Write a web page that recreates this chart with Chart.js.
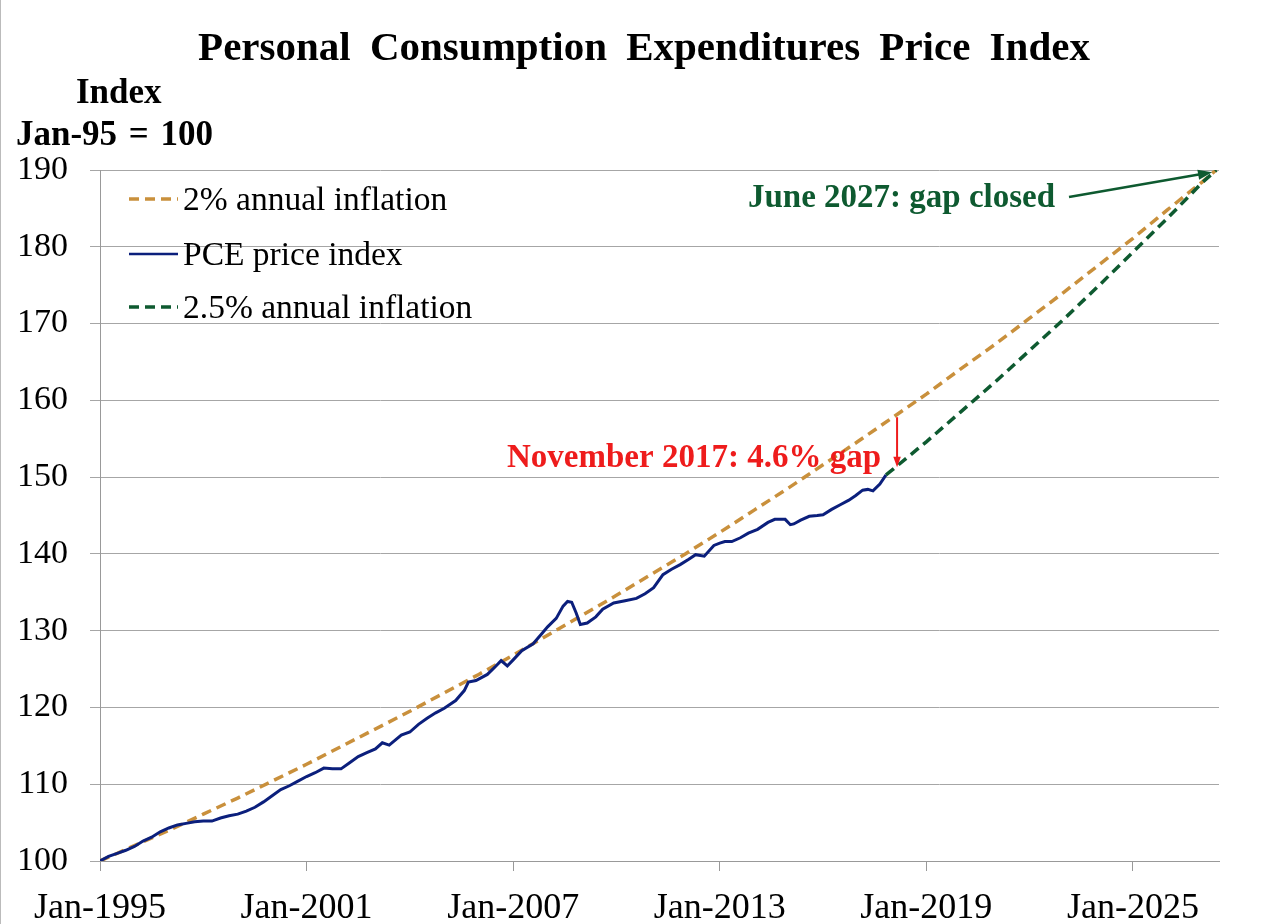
<!DOCTYPE html>
<html>
<head>
<meta charset="utf-8">
<script src="https://cdn.jsdelivr.net/npm/chart.js@4"></script>
<style>
  html, body { margin: 0; padding: 0; background: #fff; }
  #wrap { width: 1264px; height: 924px; position: relative; border-left: 1px solid #bbb; box-sizing: border-box; }
  canvas { display: block; }
</style>
</head>
<body>
<div id="wrap"><canvas id="chart" width="1263" height="924"></canvas></div>
<script>
// PCE price index, Jan-1995 = 100
const pceDates = [1995.00, 1995.25, 1995.50, 1995.75, 1996.00, 1996.25, 1996.50, 1996.75,
  1997.00, 1997.25, 1997.50, 1997.75, 1998.00, 1998.25, 1998.50, 1998.75,
  1999.00, 1999.25, 1999.50, 1999.75, 2000.00, 2000.25, 2000.50, 2000.75,
  2001.00, 2001.25, 2001.50, 2001.75, 2002.00, 2002.25, 2002.50, 2002.75,
  2003.00, 2003.20, 2003.40, 2003.75, 2004.00, 2004.25, 2004.50, 2004.75,
  2005.00, 2005.33, 2005.58, 2005.70, 2005.92, 2006.25, 2006.50, 2006.65, 2006.83,
  2007.00, 2007.25, 2007.58, 2007.83, 2008.00, 2008.25, 2008.45, 2008.58, 2008.70,
  2008.83, 2008.95, 2009.15, 2009.40, 2009.60, 2009.92, 2010.25, 2010.58, 2010.83,
  2011.08, 2011.35, 2011.60, 2011.85, 2012.10, 2012.30, 2012.55, 2012.83,
  2013.00, 2013.15, 2013.35, 2013.60, 2013.83, 2014.10, 2014.40, 2014.60, 2014.90,
  2015.05, 2015.15, 2015.35, 2015.60, 2015.83, 2016.00, 2016.25, 2016.50, 2016.75,
  2016.95, 2017.15, 2017.30, 2017.45, 2017.65, 2017.83];
const pceValues = [100.0, 100.6, 101.0, 101.4, 101.9, 102.6, 103.1, 103.8,
  104.3, 104.7, 104.9, 105.1, 105.2, 105.2, 105.6, 105.9,
  106.1, 106.5, 107.0, 107.7, 108.5, 109.3, 109.8, 110.4,
  111.0, 111.5, 112.1, 112.0, 112.0, 112.8, 113.6, 114.1,
  114.6, 115.4, 115.1, 116.4, 116.8, 117.8, 118.6, 119.3,
  119.9, 120.9, 122.2, 123.3, 123.5, 124.3, 125.4, 126.1, 125.4,
  126.2, 127.4, 128.3, 129.6, 130.5, 131.6, 133.2, 133.8, 133.7,
  132.3, 130.8, 131.0, 131.8, 132.8, 133.6, 133.9, 134.2, 134.8,
  135.6, 137.3, 138.0, 138.6, 139.3, 139.9, 139.7, 141.1,
  141.4, 141.6, 141.6, 142.1, 142.7, 143.2, 144.1, 144.5, 144.5,
  143.8, 143.9, 144.4, 144.9, 145.0, 145.1, 145.8, 146.4, 147.0,
  147.6, 148.3, 148.4, 148.2, 149.1, 150.3];

// 2% annual inflation path from Jan-1995
const trend2Dates = [1995, 1996, 1997, 1998, 1999, 2000, 2001, 2002, 2003, 2004, 2005,
  2006, 2007, 2008, 2009, 2010, 2011, 2012, 2013, 2014, 2015, 2016, 2017, 2018,
  2019, 2020, 2021, 2022, 2023, 2024, 2025, 2026, 2027, 2027.42];
const trend2Values = [100.0, 102.0, 104.0, 106.1, 108.2, 110.4, 112.6, 114.9, 117.2, 119.5, 121.9,
  124.3, 126.8, 129.4, 132.0, 134.6, 137.3, 140.0, 142.8, 145.7, 148.6, 151.6, 154.6, 157.7,
  160.8, 164.1, 167.3, 170.7, 174.1, 177.6, 181.1, 184.8, 188.4, 190.0];

// 2.5% annual inflation path from Nov-2017
const trend25Dates = [2017.83, 2018, 2019, 2020, 2021, 2022, 2023, 2024, 2025, 2026, 2027, 2027.42];
const trend25Values = [150.3, 150.9, 154.6, 158.5, 162.4, 166.5, 170.6, 174.9, 179.3, 183.7, 188.3, 190.0];

const xTickYears = [1995, 2001, 2007, 2013, 2019, 2025];
const yTickValues = [100, 110, 120, 130, 140, 150, 160, 170, 180, 190];

const chartTitle = 'Personal Consumption Expenditures Price Index';
const axisTitle = ['Index', 'Jan-95 = 100'];
const gapLabel = 'November 2017: 4.6% gap';
const closeLabel = 'June 2027: gap closed';

const orange = '#C9903C';
const navy = '#0B1F7C';
const green = '#0E5A30';
const red = '#EE1C1C';
const serif = '"Liberation Serif", "Times New Roman", serif';

function pts(xs, ys) {
  return xs.map((x, i) => ({ x: x, y: ys[i] }));
}

function arrow(ctx, x1, y1, x2, y2, color, width, head) {
  const ang = Math.atan2(y2 - y1, x2 - x1);
  ctx.strokeStyle = color;
  ctx.fillStyle = color;
  ctx.lineWidth = width;
  ctx.setLineDash([]);
  ctx.beginPath();
  ctx.moveTo(x1, y1);
  ctx.lineTo(x2 - Math.cos(ang) * head * 0.8, y2 - Math.sin(ang) * head * 0.8);
  ctx.stroke();
  ctx.beginPath();
  ctx.moveTo(x2, y2);
  ctx.lineTo(x2 - head * Math.cos(ang - 0.35), y2 - head * Math.sin(ang - 0.35));
  ctx.lineTo(x2 - head * Math.cos(ang + 0.35), y2 - head * Math.sin(ang + 0.35));
  ctx.closePath();
  ctx.fill();
}

const overlay = {
  id: 'overlay',
  afterDraw(chart) {
    const ctx = chart.ctx;
    const x = chart.scales.x, y = chart.scales.y;
    ctx.save();

    // title
    ctx.fillStyle = '#000';
    ctx.font = 'bold 41px ' + serif;
    ctx.wordSpacing = '9px';
    ctx.textAlign = 'center';
    ctx.textBaseline = 'alphabetic';
    ctx.fillText(chartTitle, 643, 60);

    // axis title
    ctx.font = 'bold 35px ' + serif;
    ctx.wordSpacing = '3px';
    ctx.textAlign = 'left';
    ctx.fillText(axisTitle[0], 75, 103);
    ctx.fillText(axisTitle[1], 15, 145);
    ctx.wordSpacing = '0px';

    // legend inside plot
    const rows = [199, 254, 307];
    ctx.font = '33.5px ' + serif;
    ctx.textBaseline = 'middle';
    chart.data.datasets.forEach((ds, i) => {
      const yy = rows[i];
      ctx.strokeStyle = ds.borderColor;
      ctx.lineWidth = ds.borderDash ? 3.5 : 2.5;
      ctx.setLineDash(ds.borderDash || []);
      ctx.beginPath();
      ctx.moveTo(128, yy);
      ctx.lineTo(177, yy);
      ctx.stroke();
      ctx.setLineDash([]);
      ctx.fillStyle = '#000';
      ctx.fillText(ds.label, 182, yy + 2);
    });

    // gap annotation
    ctx.font = 'bold 33px ' + serif;
    ctx.textAlign = 'right';
    ctx.textBaseline = 'alphabetic';
    ctx.fillStyle = red;
    ctx.fillText(gapLabel, 880, 467);
    const ax = x.getPixelForValue(2018.15);
    arrow(ctx, ax, y.getPixelForValue(157.8), ax, y.getPixelForValue(151.3), red, 2, 11);

    // closed annotation
    ctx.fillStyle = green;
    ctx.textAlign = 'left';
    ctx.fillText(closeLabel, 747, 207);
    arrow(ctx, 1068, 197, x.getPixelForValue(2027.3), y.getPixelForValue(189.7), green, 2.5, 15);

    ctx.restore();
  }
};

const ctx = document.getElementById('chart').getContext('2d');
new Chart(ctx, {
  type: 'line',
  data: {
    datasets: [
      {
        label: '2% annual inflation',
        data: pts(trend2Dates, trend2Values),
        borderColor: orange,
        borderWidth: 3.5,
        borderDash: [10, 6],
        pointRadius: 0,
        fill: false,
        order: 2
      },
      {
        label: 'PCE price index',
        data: pts(pceDates, pceValues),
        borderColor: navy,
        borderWidth: 3,
        pointRadius: 0,
        fill: false,
        order: 1
      },
      {
        label: '2.5% annual inflation',
        data: pts(trend25Dates, trend25Values),
        borderColor: green,
        borderWidth: 3.5,
        borderDash: [10, 6],
        pointRadius: 0,
        fill: false,
        order: 0
      }
    ]
  },
  options: {
    responsive: false,
    animation: false,
    devicePixelRatio: 1,
    layout: { padding: { top: 170, left: 0, right: 45, bottom: 0 } },
    plugins: {
      legend: { display: false },
      tooltip: { enabled: false },
      title: { display: false }
    },
    scales: {
      x: {
        type: 'linear',
        min: 1995,
        max: 2027.5,
        afterBuildTicks: axis => { axis.ticks = xTickYears.map(v => ({ value: v })); },
        afterFit: axis => { axis.height = 63; },
        grid: { display: true, drawOnChartArea: false, drawTicks: true, tickLength: 10, color: '#999' },
        border: { display: true, color: '#999', width: 1 },
        ticks: {
          color: '#000',
          font: { family: serif, size: 36 },
          padding: 16,
          maxRotation: 0,
          autoSkip: false,
          callback: v => 'Jan-' + v
        }
      },
      y: {
        min: 100,
        max: 190,
        afterBuildTicks: axis => { axis.ticks = yTickValues.map(v => ({ value: v })); },
        afterFit: axis => { axis.width = 99; },
        grid: { color: '#A6A6A6', lineWidth: 1, tickLength: 10 },
        border: { display: true, color: '#999', width: 1 },
        ticks: {
          color: '#000',
          font: { family: serif, size: 34 },
          padding: 22
        }
      }
    }
  },
  plugins: [overlay]
});
</script>
</body>
</html>
